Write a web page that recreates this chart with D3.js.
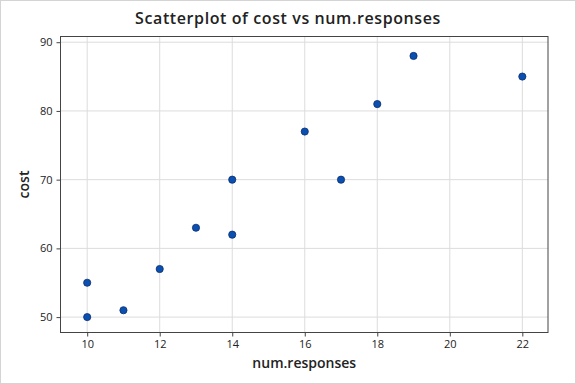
<!DOCTYPE html>
<html><head><meta charset="utf-8">
<script src="https://cdn.jsdelivr.net/npm/d3@7"></script>
<style>body{margin:0;background:#fff;} svg{display:block;font-family:"Open Sans","Noto Sans",sans-serif;}</style>
</head><body>
<svg id="c" width="576" height="384"></svg>
<script>
const numResponses = [10, 10, 11, 12, 13, 14, 14, 16, 17, 18, 19, 22];
const cost = [55, 50, 51, 57, 63, 70, 62, 77, 70, 81, 88, 85];
const xTicks = [10, 12, 14, 16, 18, 20, 22];
const yTicks = [50, 60, 70, 80, 90];

const svg = d3.select("#c");
const L = 60.5, R = 548, T = 36.5, B = 332.5;
const x = d3.scaleLinear().domain([9.264, 22.708]).range([L, R]);
const y = d3.scaleLinear().domain([47.76, 90.83]).range([B, T]);

svg.append("rect").attr("x",0.5).attr("y",0.5).attr("width",575).attr("height",383)
  .attr("fill","#fff").attr("stroke","#d4d4d4");

const g = svg.append("g");
g.selectAll(".gx").data(xTicks).enter().append("line")
  .attr("x1",d=>x(d)).attr("x2",d=>x(d)).attr("y1",T).attr("y2",B)
  .attr("stroke","#dcdcdc").attr("stroke-width",1);
g.selectAll(".gy").data(yTicks).enter().append("line")
  .attr("y1",d=>y(d)).attr("y2",d=>y(d)).attr("x1",L).attr("x2",R)
  .attr("stroke","#dcdcdc").attr("stroke-width",1);

svg.append("rect").attr("x",L).attr("y",T).attr("width",R-L).attr("height",B-T)
  .attr("fill","none").attr("stroke","#444").attr("stroke-width",1);

const xa = svg.append("g").attr("transform",`translate(0,${B})`)
  .call(d3.axisBottom(x).tickValues(xTicks).tickSize(4).tickPadding(4));
const ya = svg.append("g").attr("transform",`translate(${L},0)`)
  .call(d3.axisLeft(y).tickValues(yTicks).tickSize(4).tickPadding(4));
[xa, ya].forEach(a => {
  a.select(".domain").remove();
  a.selectAll("line").attr("stroke","#444");
  a.selectAll("text").attr("fill","#222").style("font-size","11px")
   .style("font-family","'Open Sans','Noto Sans',sans-serif");
});

svg.selectAll("circle.pt").data(numResponses).enter().append("circle")
  .attr("class","pt")
  .attr("cx",d=>x(d)).attr("cy",(d,i)=>y(cost[i])).attr("r",3.6)
  .attr("fill","#0a50b0").attr("stroke","#0c2c6e").attr("stroke-width",0.8);

svg.append("text").attr("x",288).attr("y",24).attr("text-anchor","middle")
  .style("font-size","16px").style("font-weight","600").style("letter-spacing","0.6px")
  .attr("fill","#222").text("Scatterplot of cost vs num.responses");
svg.append("text").attr("x",(L+R)/2).attr("y",368).attr("text-anchor","middle")
  .style("font-size","14px").style("font-weight","600").attr("fill","#222").text("num.responses");
svg.append("text").attr("transform",`translate(29,${(T+B)/2}) rotate(-90)`).attr("text-anchor","middle")
  .style("font-size","14px").style("font-weight","600").attr("fill","#222").text("cost");
</script>
</body></html>
